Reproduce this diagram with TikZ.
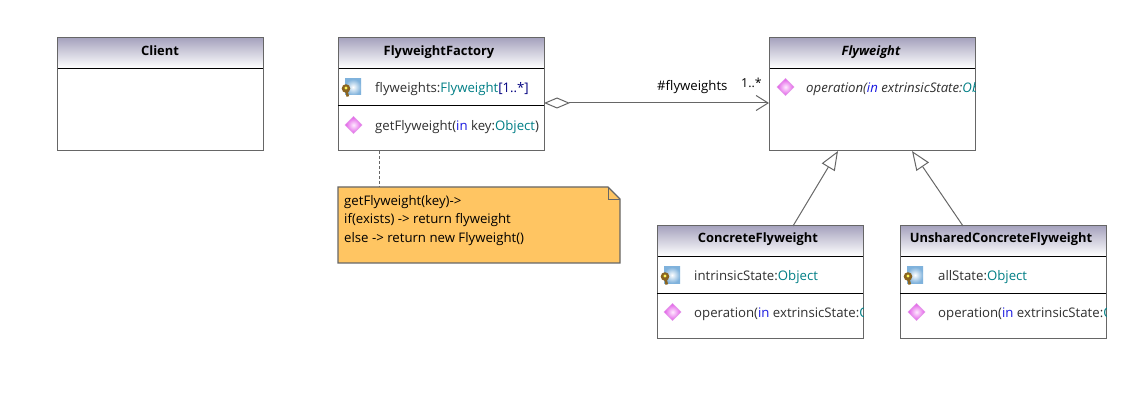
\documentclass[tikz,border=0pt]{standalone}
\usepackage{fontspec}
\setmainfont{Open Sans}
\usetikzlibrary{arrows.meta}
\definecolor{boxline}{HTML}{666666}
\definecolor{headtop}{HTML}{A6A3BE}
\definecolor{txtgray}{HTML}{303030}
\definecolor{typeteal}{HTML}{007F86}
\definecolor{keyblue}{HTML}{1A1AE0}
\definecolor{notefill}{HTML}{FFC562}
\definecolor{iconblue}{HTML}{7FB2DC}
\definecolor{iconpink}{HTML}{D970E0}
\definecolor{keybrown}{HTML}{8A6420}
\newcommand{\typ}[1]{\textcolor{typeteal}{#1}}
\newcommand{\kw}[1]{\textcolor{keyblue}{#1}}
\tikzset{
    every node/.style={font=\fontsize{13.2}{18.4}\selectfont},
    classbody/.style={fill=white,minimum width=206pt,inner sep=0pt,outer sep=0pt,anchor=north west},
    classhead/.style={top color=headtop,bottom color=white,minimum width=206pt,minimum height=30pt,inner sep=0pt,outer sep=0pt,anchor=north west},
    classframe/.style={boxline,line width=1pt},
    classtitle/.style={anchor=base,font=\fontsize{12.9}{18}\selectfont\bfseries},
    member/.style={anchor=base west,text=txtgray,inner sep=0pt},
    sepline/.style={black,line width=0.9pt},
    link/.style={boxline,line width=1pt},
    inherit/.style={link,-{Triangle[open,length=19pt,width=15pt,fill=white]}},
    attricon/.pic={
        \shade[inner color=white,outer color=iconblue] (-8,-8) rectangle (8,8);
        \fill[keybrown] (-7,1.5) circle (4.3);
        \draw[keybrown,line width=2.6pt] (-6.5,4)--(-5.2,9.5);
        \fill[yellow!65!white] (-7,1) circle (1.7);
    },
    opicon/.pic={
        \shade[inner color=magenta!8!white,outer color=iconpink!80!magenta,draw=iconpink!70!white,line width=0.6pt] (0,-8.5) -- (8.5,0) -- (0,8.5) -- (-8.5,0) -- cycle;
    }
}
\begin{document}
\begin{tikzpicture}[x=1pt,y=-1pt]
    \useasboundingbox (0,0) rectangle (1145,403);
    % class boxes
    \node[classbody,minimum height=113pt] (client) at (57,38) {};
    \node[classbody,minimum height=113pt] (factory) at (338,38) {};
    \node[classbody,minimum height=113pt] (flyweight) at (769,38) {};
    \node[classbody,minimum height=112pt] (concrete) at (657,226) {};
    \node[classbody,minimum height=112pt] (unshared) at (900,226) {};
    % headers
    \node[classhead] (clienthead) at (57,38) {};
    \node[classhead] (factoryhead) at (338,38) {};
    \node[classhead] (flyweighthead) at (769,38) {};
    \node[classhead] (concretehead) at (657,226) {};
    \node[classhead] (unsharedhead) at (900,226) {};
    \draw[sepline] (clienthead.south west)--(clienthead.south east);
    \draw[sepline] (factoryhead.south west)--(factoryhead.south east);
    \draw[sepline] (flyweighthead.south west)--(flyweighthead.south east);
    \draw[sepline] (concretehead.south west)--(concretehead.south east);
    \draw[sepline] (unsharedhead.south west)--(unsharedhead.south east);
    \draw[classframe] (client.north west) rectangle (client.south east);
    \draw[classframe] (factory.north west) rectangle (factory.south east);
    \draw[classframe] (flyweight.north west) rectangle (flyweight.south east);
    \draw[classframe] (concrete.north west) rectangle (concrete.south east);
    \draw[classframe] (unshared.north west) rectangle (unshared.south east);
    \node[classtitle] (clienttitle) at (160,56) {Client};
    \node[classtitle] (factorytitle) at (439,56) {FlyweightFactory};
    \node[classtitle,font=\fontsize{12.9}{18}\selectfont\bfseries\itshape] (flyweighttitle) at (871,56) {Flyweight};
    \node[classtitle] (concretetitle) at (758,243) {ConcreteFlyweight};
    \node[classtitle] (unsharedtitle) at (1001,243) {UnsharedConcreteFlyweight};
    % compartments
    \coordinate (factorysplit) at (338,105.5);
    \coordinate (concretesplit) at (657,293);
    \coordinate (unsharedsplit) at (900,293);
    \draw[sepline] (factorysplit)--(factorysplit -| factory.east);
    \draw[sepline] (concretesplit)--(concretesplit -| concrete.east);
    \draw[sepline] (unsharedsplit)--(unsharedsplit -| unshared.east);
    % icons
    \pic at (353,87) {attricon};
    \pic at (353.5,125) {opicon};
    \pic at (785.5,87) {opicon};
    \pic at (672,275) {attricon};
    \pic at (672.5,312) {opicon};
    \pic at (915,275) {attricon};
    \pic at (916.5,312) {opicon};
    % members
    \node[member] (factoryattr) at (375,93) {flyweights:\typ{Flyweight}\textcolor{blue!50!black}{[1..*]}};
    \node[member] (factoryop) at (375,130.5) {getFlyweight(\kw{in} key:\typ{Object})};
    \node[member] (concreteattr) at (694,280.5) {intrinsicState:\typ{Object}};
    \node[member] (unsharedattr) at (938,280.5) {allState:\typ{Object}};
    \begin{scope}
        \clip (flyweight.north west) rectangle (flyweight.south east);
        \node[member] (flyweightop) at (806,93) {\itshape operation(\kw{in} extrinsicState:\typ{Object})};
    \end{scope}
    \begin{scope}
        \clip (concrete.north west) rectangle (concrete.south east);
        \node[member] (concreteop) at (694,317.5) {operation(\kw{in} extrinsicState:\typ{Object})};
    \end{scope}
    \begin{scope}
        \clip (unshared.north west) rectangle (unshared.south east);
        \node[member] (unsharedop) at (938,317.5) {operation(\kw{in} extrinsicState:\typ{Object})};
    \end{scope}
    % note
    \coordinate (notenw) at (338,187);
    \coordinate (notese) at (620,263);
    \coordinate (notefold) at (608,187);
    \coordinate (notefoldb) at (620,199);
    \coordinate (notelink) at (379,187);
    \filldraw[fill=notefill,draw=boxline,line width=1.3pt] (notenw)--(notefold)--(notefoldb)--(notese)--(notese -| notenw)--cycle;
    \draw[boxline,line width=0.8pt] (notefold)--(notefold |- notefoldb)--(notefoldb);
    \node[anchor=north west,align=left,inner sep=0pt] (notetext) at (344,195) {getFlyweight(key)->\\if(exists) -> return flyweight\\else -> return new Flyweight()};
    \draw[link,dash pattern=on 3pt off 2pt] (notelink |- factory.south)--(notelink);
    % connectors
    \coordinate (aggfrom) at (544,103);
    \draw[link,{Diamond[open,length=26pt,width=11pt,fill=white]}-{Straight Barb[length=12pt,width=15pt]}] (aggfrom)--(aggfrom -| flyweight.west);
    \node[anchor=base west,inner sep=0pt] (rolelabel) at (657,91) {\#flyweights};
    \node[anchor=base west,inner sep=0pt,font=\fontsize{12.4}{14}\selectfont] (multlabel) at (741,88) {1..*};
    \coordinate (concretefrom) at (793,226);
    \coordinate (unsharedfrom) at (963,226);
    \coordinate (concreteto) at (838,151);
    \coordinate (unsharedto) at (912,151);
    \draw[inherit] (concretefrom)--(concreteto);
    \draw[inherit] (unsharedfrom)--(unsharedto);
\end{tikzpicture}
\end{document}
